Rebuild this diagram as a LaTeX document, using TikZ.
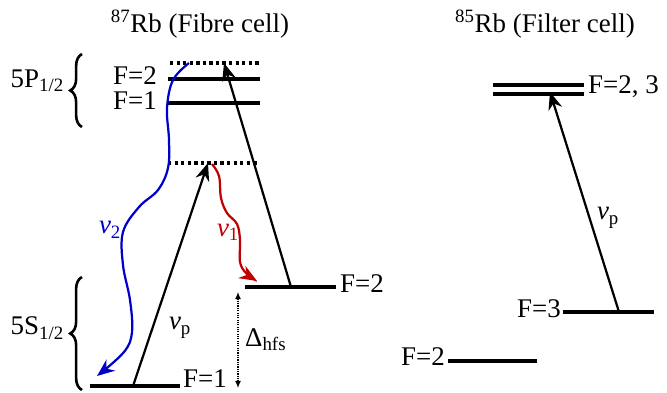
\documentclass[tikz,border=0pt]{standalone}
\usepackage{fontspec}
\setmainfont{Liberation Serif}
\usetikzlibrary{arrows.meta,decorations.pathreplacing}

\tikzset{
  level/.style={line width=2.9pt},
  virt/.style={line width=2.9pt, dash pattern=on 2.8pt off 2.8pt},
  pump/.style={line width=1.9pt, -{Stealth[length=15pt,width=12pt]}},
  decay/.style={line width=1.9pt, -{Stealth[length=15pt,width=12pt]}},
  lbl/.style={font=\fontsize{23}{27}\selectfont, inner sep=0pt},
  hfs/.style={line width=1pt, densely dotted, {Latex[length=6pt,width=5pt]}-{Latex[length=6pt,width=5pt]}},
  curly/.style={line width=2.2pt, decorate, decoration={brace,amplitude=10pt}},
}

\begin{document}
\begin{tikzpicture}[x=0.03cm,y=-0.03cm]
  \useasboundingbox (0,0) rectangle (667,393);
  % titles
  \node[lbl] (t87) at (200,24) {\textsuperscript{87}Rb (Fibre cell)};
  \node[lbl] (t85) at (545,24) {\textsuperscript{85}Rb (Filter cell)};

  % 87Rb levels
  \draw[virt] (170,63) coordinate (vtl) -- (260,63) coordinate (vtr);
  \draw[level] (168,79) coordinate (p2l) -- (260,79) coordinate (p2r);
  \draw[level] (168,103) coordinate (p1l) -- (260,103) coordinate (p1r);
  \draw[virt] (168,163) coordinate (vml) -- (257,163) coordinate (vmr);
  \draw[level] (245,287) coordinate (s2l) -- (336,287) coordinate (s2r);
  \draw[level] (90,386) coordinate (s1l) -- (180,386) coordinate (s1r);
  \node[lbl,anchor=east] (fp2) at (157,76) {F=2};
  \node[lbl,anchor=east] (fp1) at (157,101) {F=1};
  \node[lbl,anchor=west] (fs2) at (340,284) {F=2};
  \node[lbl,anchor=base west] (fs1) at (183,387) {F=1};

  % braces
  \draw[curly] (82,127) -- (82,54);
  \draw[curly] (82,390) -- (82,277);
  \node[lbl,anchor=east] (p12) at (64,81) {5P\textsubscript{1/2}};
  \node[lbl,anchor=east] (s12) at (64,328) {5S\textsubscript{1/2}};

  % pumps
  \coordinate (a1) at (133,386);
  \coordinate (a2) at (208,163);
  \draw[pump] (a1) -- (a2);
  \node[lbl] (nup1) at (180,328) {{\itshape ν}\textsubscript{p}};
  \coordinate (b1) at (291,287);
  \coordinate (b2) at (224,63);
  \draw[pump] (b1) -- (b2);

  % emissions
  \coordinate (r1) at (212,164);
  \coordinate (r2) at (257,281);
  \draw[decay,red!75!black] plot[smooth,tension=0.6] coordinates
    {(r1) (219,176) (221,198) (227,213) (237,224) (240,240) (240,262) (246,273) (r2)};
  \node[lbl,red!75!black] (nu1) at (228,232) {{\itshape ν}\textsubscript{1}};
  \coordinate (u1) at (189,63);
  \coordinate (u2) at (97,376);
  \draw[decay,blue!80!black] plot[smooth,tension=0.6] coordinates
    {(u1) (173,80) (167,108) (169,140) (168,168) (158,190) (139,207) (123,232) (123,265) (130,300) (132,332) (124,352) (u2)};
  \node[lbl,blue!80!black] (nu2) at (110,230) {{\itshape ν}\textsubscript{2}};

  % hyperfine splitting
  \coordinate (h1) at (238,292);
  \coordinate (h2) at (238,388);
  \draw[hfs] (h1) -- (h2);
  \node[lbl,anchor=west] (dhfs) at (245,340) {Δ\textsubscript{hfs}};

  % 85Rb levels
  \draw[level] (493,85) coordinate (q3l) -- (584,85) coordinate (q3r);
  \draw[level] (493,94) coordinate (q2l) -- (584,94) coordinate (q2r);
  \draw[level] (563,312) coordinate (g3l) -- (654,312) coordinate (g3r);
  \draw[level] (448,361) coordinate (g2l) -- (537,361) coordinate (g2r);
  \node[lbl,anchor=west] (fq) at (588,87) {F=2, 3};
  \node[lbl,anchor=east] (fg3) at (561,309) {F=3};
  \node[lbl,anchor=east] (fg2) at (445,357) {F=2};
  \coordinate (c1) at (619,312);
  \coordinate (c2) at (550,92);
  \draw[pump] (c1) -- (c2);
  \node[lbl] (nup2) at (608,218) {{\itshape ν}\textsubscript{p}};
\end{tikzpicture}
\end{document}
